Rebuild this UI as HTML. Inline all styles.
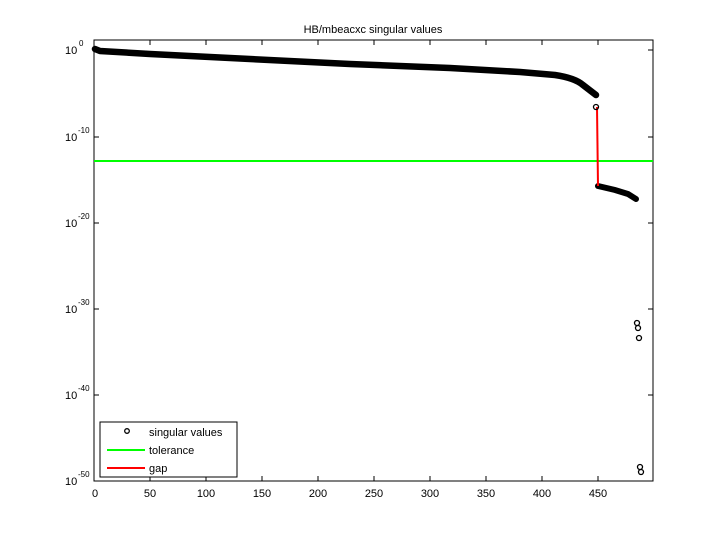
<!DOCTYPE html><html><head><style>body{margin:0;background:#fff}svg text{font-family:"Liberation Sans",sans-serif;font-size:11px}</style></head><body>
<svg width="720" height="540" xmlns="http://www.w3.org/2000/svg">
<rect width="720" height="540" fill="#fff"/>
<text x="373" y="33" text-anchor="middle">HB/mbeacxc singular values</text>
<g stroke="#000" fill="none">
<rect x="94" y="40" width="559" height="441"/>
<path d="M94,481v-5M150,481v-5M206,481v-5M262,481v-5M318,481v-5M374,481v-5M430,481v-5M486,481v-5M542,481v-5M598,481v-5"/>
<path d="M94,40v5M150,40v5M206,40v5M262,40v5M318,40v5M374,40v5M430,40v5M486,40v5M542,40v5M598,40v5"/>
<path d="M94,50h5M94,137h5M94,223h5M94,309h5M94,395h5M648,50h5M648,137h5M648,223h5M648,309h5M648,395h5"/>
</g>
<g text-anchor="middle">
<text x="95" y="497">0</text><text x="150" y="497">50</text><text x="206" y="497">100</text><text x="262" y="497">150</text><text x="318" y="497">200</text><text x="374" y="497">250</text><text x="430" y="497">300</text><text x="486" y="497">350</text><text x="542" y="497">400</text><text x="598" y="497">450</text>
</g>
<g font-size="11">
<text x="65" y="54">10</text><text x="79" y="46" style="font-size:8px">0</text>
<text x="65" y="141">10</text><text x="78" y="133" style="font-size:8px">-10</text>
<text x="65" y="227">10</text><text x="78" y="219" style="font-size:8px">-20</text>
<text x="65" y="313">10</text><text x="78" y="305" style="font-size:8px">-30</text>
<text x="65" y="399">10</text><text x="78" y="391" style="font-size:8px">-40</text>
<text x="65" y="485">10</text><text x="78" y="477" style="font-size:8px">-50</text>
</g>
<line x1="94" y1="161" x2="653" y2="161" stroke="#0f0" stroke-width="2"/>
<path d="M95,49 L100,51 L150,54 L250,59 L350,64 L450,68 L520,72 L555,75 Q575,78 583,85 L596,95" stroke="#000" stroke-width="6.5" fill="none" stroke-linecap="round" stroke-linejoin="round"/>
<path d="M598,186 L615,190 L628,194 L636,199" stroke="#000" stroke-width="6" fill="none" stroke-linecap="round"/>
<line x1="597" y1="107" x2="598" y2="186" stroke="#f00" stroke-width="2"/>
<g stroke="#000" fill="none" stroke-width="1.3">
<circle cx="596" cy="107" r="2.5"/><circle cx="637" cy="323" r="2.5"/><circle cx="638" cy="328" r="2.5"/><circle cx="639" cy="338" r="2.5"/><circle cx="640" cy="467" r="2.5"/><circle cx="641" cy="472" r="2.5"/>
</g>
<rect x="100" y="422" width="137" height="55" fill="#fff" stroke="#000"/>
<circle cx="127" cy="431" r="2.3" fill="none" stroke="#000" stroke-width="1.3"/>
<text x="149" y="436">singular values</text>
<line x1="107" y1="450" x2="145" y2="450" stroke="#0f0" stroke-width="2"/>
<text x="149" y="454">tolerance</text>
<line x1="107" y1="468" x2="145" y2="468" stroke="#f00" stroke-width="2"/>
<text x="149" y="472">gap</text>
</svg></body></html>
